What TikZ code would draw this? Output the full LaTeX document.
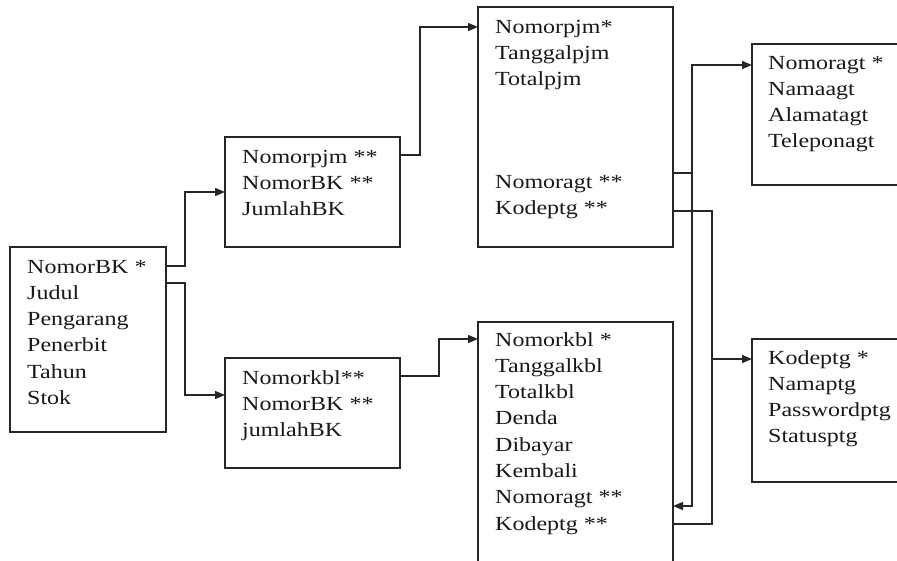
\documentclass[tikz,border=0pt]{standalone}
\usepackage{fontspec}
\setmainfont{Liberation Serif}[FakeStretch=1.2]
\usetikzlibrary{arrows.meta,calc}
\newcommand\fieldlist[1]{\parbox[t]{170pt}{\raggedright #1}}
\begin{document}
\begin{tikzpicture}[x=1pt,y=-1pt,
  box/.style={draw=black!85,line width=1.3pt,inner sep=0pt,outer sep=0pt,anchor=north west},
  txt/.style={anchor=base west,inner sep=0pt,text=black!90,
    font=\fontsize{20}{26.3}\selectfont},
  conn/.style={draw=black!85,line width=1.3pt},
  arr/.style={conn,-{Triangle[length=10pt,width=8pt]}}]
\useasboundingbox (0,0) rectangle (897,560);
\clip (0,0) rectangle (897,560);
% boxes
\node[box,minimum width=156pt,minimum height=185pt] (A) at (10,247) {};
\node[box,minimum width=175pt,minimum height=110pt] (B) at (225,137) {};
\node[box,minimum width=175pt,minimum height=110pt] (C) at (225,358) {};
\node[box,minimum width=195pt,minimum height=240pt] (D) at (478,7) {};
\node[box,minimum width=195pt,minimum height=260pt] (E) at (478,322) {};
\node[box,minimum width=160pt,minimum height=141pt] (F) at (752,44) {};
\node[box,minimum width=160pt,minimum height=143pt] (G) at (752,339) {};
% texts
\node[txt] (At) at ($(A.north west)+(17,26)$) {\fieldlist{NomorBK *\\Judul\\Pengarang\\Penerbit\\Tahun\\Stok}};
\node[txt] (Bt) at ($(B.north west)+(17,26)$) {\fieldlist{Nomorpjm **\\NomorBK **\\JumlahBK}};
\node[txt] (Ct) at ($(C.north west)+(17,26)$) {\fieldlist{Nomorkbl**\\NomorBK **\\jumlahBK}};
\node[txt] (Dt) at ($(D.north west)+(17,26)$) {\fieldlist{Nomorpjm*\\Tanggalpjm\\Totalpjm}};
\node[txt] (Dt2) at ($(D.north west)+(17,181)$) {\fieldlist{Nomoragt **\\Kodeptg **}};
\node[txt] (Et) at ($(E.north west)+(17,24)$) {\fieldlist{Nomorkbl *\\Tanggalkbl\\Totalkbl\\Denda\\Dibayar\\Kembali\\Nomoragt **\\Kodeptg **}};
\node[txt] (Ft) at ($(F.north west)+(16,25)$) {\fieldlist{Nomoragt *\\Namaagt\\Alamatagt\\Teleponagt}};
\node[txt] (Gt) at ($(G.north west)+(16,25)$) {\fieldlist{Kodeptg *\\Namaptg\\Passwordptg\\Statusptg}};
% junction coordinates
\coordinate (j1) at (692,173);
\coordinate (j2) at (712,211);
% connectors
\draw[arr] (A.east |- 0,266) -- (185,266) |- (B.west |- 0,192);
\draw[arr] (A.east |- 0,283) -- (185,283) |- (C.west |- 0,395);
\draw[arr] (B.east |- 0,155) -- (420,155) |- (D.west |- 0,27);
\draw[arr] (C.east |- 0,376) -- (439,376) |- (E.west |- 0,339);
\draw[conn] (D.east |- j1) -- (j1);
\draw[arr] (j1) |- (F.west |- 0,65);
\draw[arr] (j1) |- (E.east |- 0,506);
\draw[conn] (D.east |- j2) -- (j2) |- (E.east |- 0,524);
\draw[arr] (j2 |- 0,359) -- (G.west |- 0,359);
\end{tikzpicture}
\end{document}
